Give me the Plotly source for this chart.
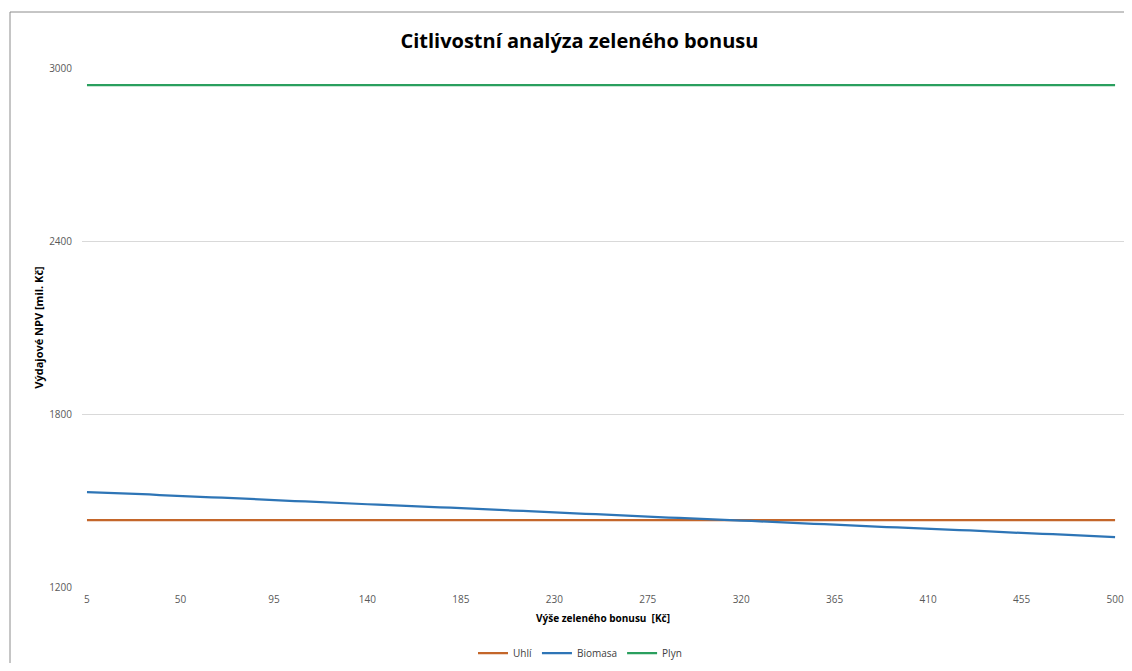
import plotly.graph_objects as go

bonus = list(range(5, 505, 5))

uhli = [1432] * 100
plyn = [2941] * 100
biomasa = [
    1529, 1528, 1527, 1525, 1524, 1522, 1521, 1519, 1517, 1516,
    1514, 1513, 1511, 1510, 1508, 1506, 1505, 1503, 1502, 1500,
    1498, 1497, 1495, 1494, 1492, 1491, 1489, 1487, 1486, 1484,
    1483, 1481, 1479, 1478, 1476, 1475, 1473, 1472, 1470, 1468,
    1467, 1465, 1464, 1462, 1460, 1459, 1457, 1456, 1454, 1453,
    1451, 1449, 1448, 1446, 1445, 1443, 1441, 1440, 1438, 1437,
    1435, 1434, 1432, 1430, 1429, 1427, 1426, 1424, 1422, 1421,
    1419, 1418, 1416, 1415, 1413, 1411, 1410, 1408, 1407, 1405,
    1403, 1402, 1400, 1399, 1397, 1396, 1394, 1392, 1391, 1389,
    1388, 1386, 1384, 1383, 1381, 1380, 1378, 1377, 1375, 1373,
]

x_ticks = list(range(5, 501, 45))
y_ticks = [1200, 1800, 2400, 3000]

fig = go.Figure()
fig.add_trace(go.Scatter(x=bonus, y=uhli, mode="lines", name="Uhlí",
                         line=dict(color="#C4662A", width=2.25)))
fig.add_trace(go.Scatter(x=bonus, y=biomasa, mode="lines", name="Biomasa",
                         line=dict(color="#2E75B6", width=2.25)))
fig.add_trace(go.Scatter(x=bonus, y=plyn, mode="lines", name="Plyn",
                         line=dict(color="#2A9F5E", width=2.25)))

font_family = "Open Sans, Liberation Sans, sans-serif"

# plot area in page px: x 82..1124, y 68..587 (figure sits at 8px body offset)
PX0, PX1, PY0, PY1 = 82.0, 1124.0, 68.0, 587.0
PW, PH = PX1 - PX0, PY1 - PY0
FH = 655

fig.update_layout(
    width=1116, height=FH,
    margin=dict(l=74, r=0, t=60, b=76, autoexpand=False),
    paper_bgcolor="white", plot_bgcolor="white",
    font=dict(family=font_family, color="#595959", size=10),
    title=dict(text="<b>Citlivostní analýza zeleného bonusu</b>",
               x=0.512, xanchor="center", y=0.95, yanchor="middle",
               font=dict(size=20, color="#000000", family=font_family)),
    showlegend=True,
    legend=dict(orientation="h", x=(580 - PX0) / PW, xanchor="center",
                yref="container", y=1 - (653 - 8) / FH, yanchor="middle",
                font=dict(size=10, color="#404040")),
    xaxis=dict(range=[2.6, 504.3], tickvals=x_ticks, showgrid=False, zeroline=False,
               showline=False, ticks="", ticklabelstandoff=5,
               ticklabeloverflow="allow",
               tickfont=dict(size=10, color="#595959"),
               title=dict(text="<b>Výše zeleného bonusu  [Kč]</b>", standoff=9,
                          font=dict(size=10, color="#000000"))),
    yaxis=dict(range=[1200, 3000], tickvals=y_ticks, showgrid=True, gridcolor="#D9D9D9",
               gridwidth=1, zeroline=False, showline=False, ticks="",
               ticklabelstandoff=9,
               tickfont=dict(size=10, color="#595959"),
               title=dict(text="<b>Výdajové NPV [mil. Kč]</b>", standoff=3,
                          font=dict(size=11, color="#000000"))),
    shapes=[dict(type="rect", xref="paper", yref="paper",
                 x0=(10 - PX0) / PW, x1=(1160 - PX0) / PW,
                 y0=(PY1 - 700) / PH, y1=(PY1 - 12) / PH,
                 line=dict(color="#8C8C8C", width=1), layer="below")],
)

fig.write_html("out.html")
